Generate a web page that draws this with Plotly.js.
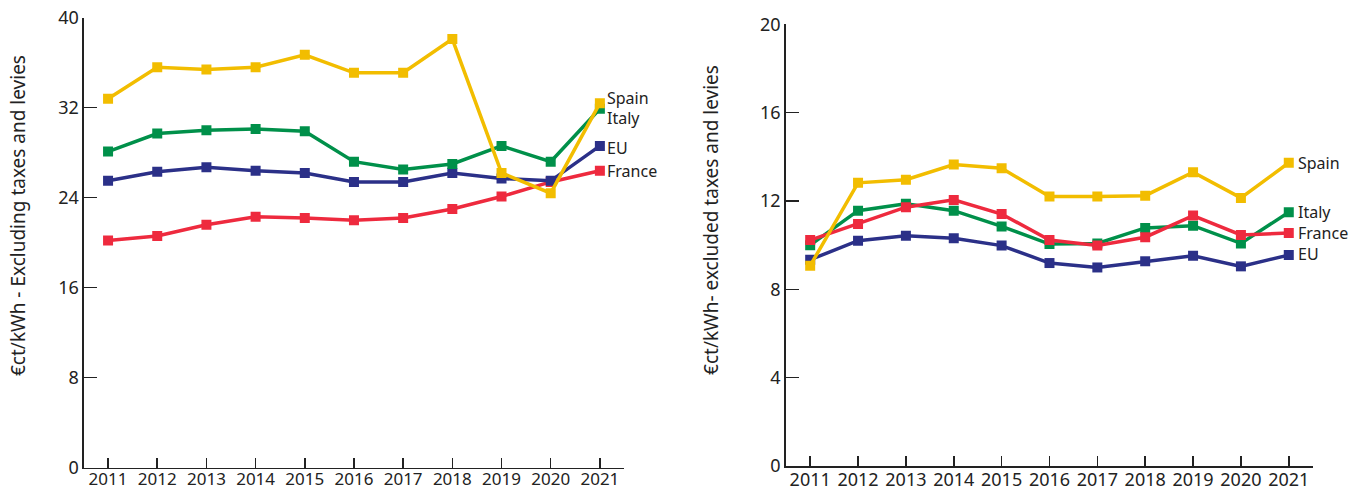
<!DOCTYPE html>
<html>
<head>
<meta charset="utf-8">
<script src="https://cdn.plot.ly/plotly-3.0.1.min.js"></script>
<style>html,body{margin:0;padding:0;background:#fff;}#chart{width:1363px;height:491px;}</style>
</head>
<body>
<div id="chart"></div>
<script>
// Years (x categories)
const years = [2011, 2012, 2013, 2014, 2015, 2016, 2017, 2018, 2019, 2020, 2021];
const yearLabels = ["2011", "2012", "2013", "2014", "2015", "2016", "2017", "2018", "2019", "2020", "2021"];

// Left chart: €ct/kWh - Excluding taxes and levies
const leftSpain  = [32.8, 35.6, 35.4, 35.6, 36.7, 35.1, 35.1, 38.1, 26.2, 24.4, 32.4];
const leftItaly  = [28.1, 29.7, 30.0, 30.1, 29.9, 27.2, 26.5, 27.0, 28.6, 27.2, 31.9];
const leftEU     = [25.5, 26.3, 26.7, 26.4, 26.2, 25.4, 25.4, 26.2, 25.7, 25.5, 28.6];
const leftFrance = [20.2, 20.6, 21.6, 22.3, 22.2, 22.0, 22.2, 23.0, 24.1, 25.4, 26.4];

// Right chart: €ct/kWh- excluded taxes and levies
const rightSpain  = [9.07, 12.82, 12.96, 13.65, 13.48, 12.2, 12.2, 12.24, 13.3, 12.14, 13.73];
const rightItaly  = [10.0, 11.56, 11.87, 11.56, 10.85, 10.05, 10.08, 10.78, 10.88, 10.08, 11.49];
const rightFrance = [10.23, 10.96, 11.72, 12.05, 11.41, 10.23, 9.98, 10.36, 11.34, 10.46, 10.55];
const rightEU     = [9.34, 10.2, 10.43, 10.31, 9.98, 9.19, 8.99, 9.27, 9.52, 9.04, 9.55];

const seriesNames = ["Spain", "Italy", "EU", "France"];
const colors = {Spain: "#F2BD00", Italy: "#00904A", EU: "#2B3088", France: "#EE2A3E"};

const leftTitle = "€ct/kWh - Excluding taxes and levies";
const rightTitle = "€ct/kWh- excluded taxes and levies";

const FONT = "Noto Sans, Open Sans, sans-serif";

function tr(name, y, xa, ya) {
  return {
    x: years, y: y, xaxis: xa, yaxis: ya, name: name,
    type: "scatter", mode: "lines+markers",
    line: {color: colors[name], width: 3.5},
    marker: {symbol: "square", size: 10, color: colors[name]},
    showlegend: false, hoverinfo: "x+y+name"
  };
}

const data = [
  tr("France", leftFrance, "x", "y"),
  tr("EU", leftEU, "x", "y"),
  tr("Italy", leftItaly, "x", "y"),
  tr("Spain", leftSpain, "x", "y"),
  tr("EU", rightEU, "x2", "y2"),
  tr("Italy", rightItaly, "x2", "y2"),
  tr("France", rightFrance, "x2", "y2"),
  tr("Spain", rightSpain, "x2", "y2")
];

const axisCommon = {
  showline: true, linecolor: "#222", linewidth: 1.5,
  ticks: "inside", tickcolor: "#222", tickwidth: 1.5,
  showgrid: false, zeroline: false,
  tickfont: {family: FONT, size: 18, color: "#222"}
};

const xCommon = Object.assign({}, axisCommon, {
  tickmode: "array", tickvals: years, ticktext: yearLabels, ticklen: 10, ticklabelstandoff: -3
});
const yCommon = Object.assign({}, axisCommon, {ticklen: 13});

function endLabel(text, xa, ya, yval, shift) {
  return {
    text: text, xref: xa, yref: ya, x: 2021, y: yval,
    xanchor: "left", yanchor: "middle", xshift: shift, showarrow: false,
    font: {family: FONT, size: 16, color: "#222"}
  };
}

const layout = {
  width: 1363, height: 491,
  margin: {l: 0, r: 0, t: 0, b: 0},
  paper_bgcolor: "#fff", plot_bgcolor: "#fff",
  showlegend: false,
  xaxis: Object.assign({}, xCommon, {domain: [0.0616, 0.4578], range: [2010.51, 2021.49], anchor: "y",
    tickfont: {family: FONT, size: 17, color: "#222"}, ticklabelstandoff: -5}),
  yaxis: Object.assign({}, yCommon, {domain: [0.0475, 0.964], range: [0, 40], tickvals: [0, 8, 16, 24, 32, 40], anchor: "x"}),
  xaxis2: Object.assign({}, xCommon, {domain: [0.5765, 0.9631], range: [2010.49, 2021.5], anchor: "y2"}),
  yaxis2: Object.assign({}, yCommon, {domain: [0.0509, 0.9505], range: [0, 20], tickvals: [0, 4, 8, 12, 16, 20], anchor: "x2"}),
  annotations: [
    {text: leftTitle, xref: "paper", yref: "paper", x: 18 / 1363, y: 0.56, textangle: -90,
     showarrow: false, xanchor: "center", yanchor: "middle", font: {family: FONT, size: 19, color: "#222"}},
    {text: rightTitle, xref: "paper", yref: "paper", x: 711 / 1363, y: 0.552, textangle: -90,
     showarrow: false, xanchor: "center", yanchor: "middle", font: {family: FONT, size: 19, color: "#222"}},
    endLabel("Spain", "x", "y", 32.85, 5),
    endLabel("Italy", "x", "y", 31.05, 5),
    endLabel("EU", "x", "y", 28.44, 5),
    endLabel("France", "x", "y", 26.4, 5),
    endLabel("Spain", "x2", "y2", 13.74, 7),
    endLabel("Italy", "x2", "y2", 11.52, 7),
    endLabel("France", "x2", "y2", 10.56, 7),
    endLabel("EU", "x2", "y2", 9.6, 7)
  ]
};

Plotly.newPlot("chart", data, layout, {displayModeBar: false, staticPlot: true});
</script>
</body>
</html>
